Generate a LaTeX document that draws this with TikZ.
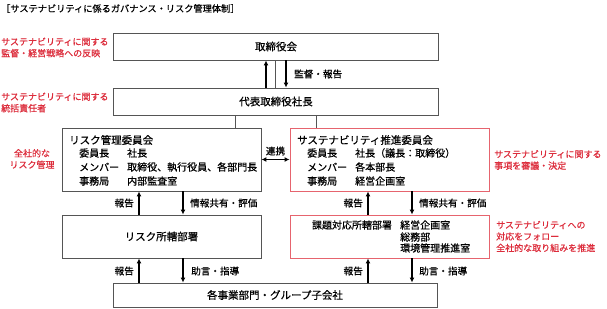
\documentclass[tikz,border=0pt]{standalone}
\usepackage{fontspec}
\setmainfont{Noto Sans CJK JP}[FakeBold=0.6]
\usetikzlibrary{arrows.meta}
\definecolor{notered}{RGB}{220,45,60}
\definecolor{boxred}{RGB}{230,100,110}
\definecolor{boxgray}{RGB}{85,85,85}
\tikzset{
  box/.style={draw=boxgray, line width=0.9pt, inner sep=0pt},
  redbox/.style={draw=boxred, line width=0.9pt, inner sep=0pt},
  note/.style={text=notered, font=\fontsize{9}{11.5}\selectfont, align=left, inner sep=0pt},
  lbl/.style={font=\fontsize{9.6}{11}\selectfont, inner sep=0pt},
  head/.style={font=\fontsize{10.5}{12}\selectfont, inner sep=0pt},
  row/.style={font=\fontsize{10}{12}\selectfont, inner sep=0pt, anchor=west},
  flow/.style={-{Latex[length=5pt,width=5pt]}, line width=1.4pt},
  link/.style={draw=boxgray, line width=0.6pt},
}
\begin{document}
\begin{tikzpicture}[x=1pt, y=-1pt]
  \useasboundingbox (0,0) rectangle (607,308);
  % title
  \node[anchor=west, inner sep=0pt, font=\fontsize{9.2}{11}\selectfont] (title) at (1,8.5) {［サステナビリティに係るガバナンス・リスク管理体制］};
  % boxes
  \node[box, minimum width=325pt, minimum height=27pt] (board) at (275.5,46.5) {};
  \node[head] (boardtxt) at (276,46.5) {取締役会};
  \node[box, minimum width=325pt, minimum height=27pt] (ceo) at (275.5,101.5) {};
  \node[head] (ceotxt) at (276,101.5) {代表取締役社長};
  \node[box, minimum width=199pt, minimum height=63pt] (riskcom) at (161.5,159.5) {};
  \node[redbox, minimum width=199pt, minimum height=63pt] (suscom) at (389.5,159.5) {};
  \node[box, minimum width=199pt, minimum height=43pt] (riskdept) at (161.5,236.5) {};
  \node[head] (riskdepttxt) at (161.5,236.5) {リスク所轄部署};
  \node[redbox, minimum width=199pt, minimum height=43pt] (susdept) at (389.5,236.5) {};
  \node[box, minimum width=324pt, minimum height=24pt] (group) at (275,295) {};
  \node[head] (grouptxt) at (275,295) {各事業部門・グループ子会社};
  % committees
  \node[head, anchor=west] (riskhead) at (69,140) {リスク管理委員会};
  \foreach \y/\k/\v [count=\i] in {153/委員長/社長, 167/メンバー/{取締役、執行役員、各部門長}, 181/事務局/内部監査室} {
    \node[row] (rk\i) at (79,\y) {\k};
    \node[row] (rv\i) at (127,\y) {\v};
  }
  \node[head, anchor=west] (sushead) at (297,140) {サステナビリティ推進委員会};
  \foreach \y/\k/\v [count=\i] in {153/委員長/社長（議長：取締役）, 167/メンバー/各本部長, 181/事務局/経営企画室} {
    \node[row] (sk\i) at (307,\y) {\k};
    \node[row] (sv\i) at (355,\y) {\v};
  }
  \node[row, anchor=center] (susdepthead) at (352,225) {課題対応所轄部署};
  \foreach \y/\v [count=\i] in {225/経営企画室, 237/総務部, 248/環境管理推進室}
    \node[row] (dv\i) at (400,\y) {\v};
  % red notes
  \node[note, anchor=west] (note1) at (1,47.5) {サステナビリティに関する\\監督・経営戦略への反映};
  \node[note, anchor=west] (note2) at (1,102.5) {サステナビリティに関する\\統括責任者};
  \node[note, align=center] (note3) at (32,159) {全社的な\\リスク管理};
  \node[note, anchor=west] (note4) at (494,160) {サステナビリティに関する\\事項を審議・決定};
  \node[note, anchor=west] (note5) at (496,236.5) {サステナビリティへの\\対応をフォロー\\全社的な取り組みを推進};
  % connectors
  \coordinate (up0) at (266,0);
  \coordinate (dn0) at (286,0);
  \coordinate (lc1) at (235,0);
  \coordinate (lc2) at (316,0);
  \draw[link] (board) -- (ceo);
  \draw[flow] (up0 |- ceo.north) -- (up0 |- board.south);
  \draw[flow] (dn0 |- board.south) -- (dn0 |- ceo.north);
  \node[lbl, anchor=west] (l0) at (294,74) {監督・報告};
  \draw[link] (lc1 |- ceo.south) -- (lc1 |- riskcom.north);
  \draw[link] (lc2 |- ceo.south) -- (lc2 |- suscom.north);
  \draw[flow, {Latex[length=5pt,width=5pt]}-{Latex[length=5pt,width=5pt]}] (riskcom) -- (suscom);
  \node[lbl] (l1) at (275.5,151) {連携};
  \foreach \up/\dn/\nm in {139/183/r, 368/412/s} {
    \coordinate (u\nm) at (\up,0);
    \coordinate (d\nm) at (\dn,0);
  }
  \draw[flow] (ur |- riskdept.north) -- (ur |- riskcom.south);
  \draw[flow] (dr |- riskcom.south) -- (dr |- riskdept.north);
  \draw[flow] (ur |- group.north) -- (ur |- riskdept.south);
  \draw[flow] (dr |- riskdept.south) -- (dr |- group.north);
  \draw[flow] (us |- susdept.north) -- (us |- suscom.south);
  \draw[flow] (ds |- suscom.south) -- (ds |- susdept.north);
  \draw[flow] (us |- group.north) -- (us |- susdept.south);
  \draw[flow] (ds |- susdept.south) -- (ds |- group.north);
  \node[lbl, anchor=east] (l2) at (134,203) {報告};
  \node[lbl, anchor=west] (l3) at (190,203) {情報共有・評価};
  \node[lbl, anchor=east] (l4) at (134,271) {報告};
  \node[lbl, anchor=west] (l5) at (191,271) {助言・指導};
  \node[lbl, anchor=east] (l6) at (363,203) {報告};
  \node[lbl, anchor=west] (l7) at (419,203) {情報共有・評価};
  \node[lbl, anchor=east] (l8) at (363,271) {報告};
  \node[lbl, anchor=west] (l9) at (419,271) {助言・指導};
\end{tikzpicture}
\end{document}
